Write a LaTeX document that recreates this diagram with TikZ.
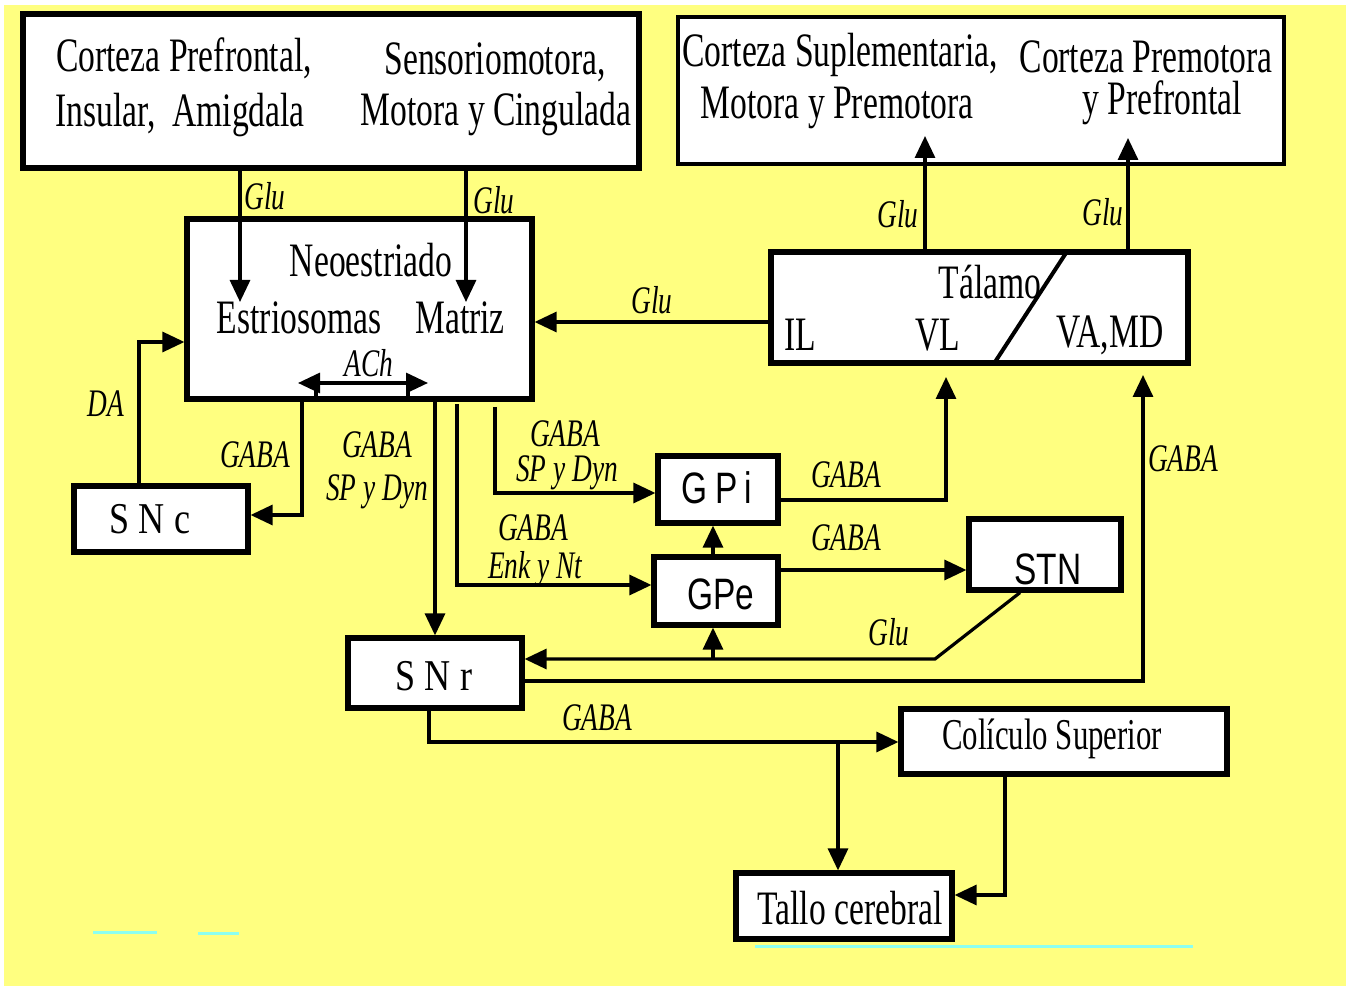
\documentclass[tikz,border=0pt]{standalone}
\usepackage{fontspec}
\usetikzlibrary{arrows.meta,fit,calc}
\newfontfamily\cond[FakeStretch=0.7]{Liberation Serif}
\newfontfamily\sanc[FakeStretch=0.76]{Liberation Sans}
\newfontfamily\snf[FakeStretch=0.82]{Liberation Serif}
\definecolor{bgy}{RGB}{255,255,128}
\definecolor{cy}{RGB}{140,255,240}
\begin{document}
\begin{tikzpicture}[x=0.5pt,y=-0.5pt,
 box/.style={draw, fill=white, line width=2.6pt, inner sep=0pt},
 txt/.style={inner sep=0pt, font=\cond\fontsize{24}{28}\selectfont},
 lab/.style={inner sep=0pt, font=\cond\itshape\fontsize{19.5}{23}\selectfont},
 sbox/.style={inner sep=0pt, font=\sanc\fontsize{22}{26}\selectfont},
 snt/.style={inner sep=0pt, font=\snf\fontsize{22}{26}\selectfont},
 arr/.style={line width=1.6pt, -{Triangle[length=11pt,width=10pt]}},
 ln/.style={line width=1.6pt}]
\useasboundingbox (0,0) rectangle (1348,988);
\fill[white] (0,0) rectangle (1348,988);
\fill[bgy] (4,5) rectangle (1346,986);
% boxes
\node[box, fit={(23,14) (639,168)}] (A) {};
\node[box, line width=2.2pt, fit={(678,17) (1284,164)}] (B) {};
\node[box, fit={(187,219) (532,399)}] (Neo) {};
\node[box, fit={(771,252) (1188,363)}] (Tal) {};
\node[box, fit={(74,486) (248,552)}] (SNc) {};
\node[box, fit={(658,456) (778,523)}] (GPi) {};
\node[box, fit={(654,557) (778,625)}] (GPe) {};
\node[box, fit={(969,519) (1121,590)}] (STN) {};
\node[box, fit={(348,638) (522,708)}] (SNr) {};
\node[box, fit={(901,709) (1227,774)}] (Col) {};
\node[box, fit={(736,873) (952,939)}] (Tallo) {};
% box texts
\node[txt] (a1) at (184,58) {Corteza Prefrontal,};
\node[txt] (a2) at (180,115) {Insular,\ \ Amigdala};
\node[txt] (a3) at (495,62) {Sensoriomotora,};
\node[txt] (a4) at (496,114) {Motora y Cingulada};
\node[txt] (b1) at (840,55) {Corteza Suplementaria,};
\node[txt] (b2) at (837,108) {Motora y Premotora};
\node[txt] (b3) at (1146,57) {Corteza Premotora};
\node[txt] (b4) at (1162,103) {y Prefrontal};
\node[txt] (n1) at (371,260) {Neoestriado};
\node[txt] (n2) at (299,318) {Estriosomas};
\node[txt] (n3) at (460,318) {Matriz};
\node[txt] (t1) at (990,282) {Tálamo};
\node[txt] (t2) at (800,335) {IL};
\node[txt] (t3) at (938,335) {VL};
\node[txt] (t4) at (1110,335) {VA,MD};
\draw[line width=2pt] (1066,253) -- (995,362);
\node[snt] (snc) at (150,519) {S N c};
\node[snt] (snr) at (434,676) {S N r};
\node[sbox] (gpi) at (717,488) {G\,P\,i};
\node[sbox] (gpe) at (721,594) {GPe};
\node[sbox] (stn) at (1048,569) {STN};
\node[txt, font=\cond\fontsize{22}{26}\selectfont] (col) at (1052,739) {Colículo Superior};
\node[txt] (tal) at (850,908) {Tallo cerebral};
% connectors
\coordinate (g1) at (240,302);
\draw[arr] (A.south -| g1) -- (g1);
\coordinate (g2) at (466,302);
\draw[arr] (A.south -| g2) -- (g2);
\coordinate (g3) at (771,322);
\draw[arr] (Tal.west |- g3) -- (Neo.east |- g3);
\coordinate (g4) at (925,136);
\draw[arr] (Tal.north -| g4) -- (g4);
\coordinate (g5) at (1128,138);
\draw[arr] (Tal.north -| g5) -- (g5);
\coordinate (da) at (139,342);
\draw[arr] (SNc.north -| da) -- (da) -- (Neo.west |- da);
\coordinate (ach1) at (298,383);
\coordinate (ach2) at (428,383);
\draw[line width=1.6pt, {Triangle[length=11pt,width=10pt]}-{Triangle[length=11pt,width=10pt]}] (ach1) -- (ach2);
\coordinate (ak1) at (316,383);
\coordinate (ak2) at (408,383);
\draw[ln] (ak1) -- (ak1 |- Neo.south);
\draw[ln] (ak2) -- (ak2 |- Neo.south);
\coordinate (s1) at (302,515);
\draw[arr] (Neo.south -| s1) -- (s1) -- (SNc.east |- s1);
\coordinate (s2) at (435,500);
\draw[arr] (Neo.south -| s2) -- (SNr.north -| s2);
\coordinate (s3a) at (457,404);
\coordinate (s3) at (457,585);
\draw[arr] (s3a) -- (s3) -- (GPe.west |- s3);
\coordinate (s4a) at (495,407);
\coordinate (s4) at (495,493);
\draw[arr] (s4a) -- (s4) -- (GPi.west |- s4);
\coordinate (s5) at (946,500);
\coordinate (s5t) at (946,377);
\draw[arr] (GPi.east |- s5) -- (s5) -- (s5t);
\coordinate (s6) at (713,540);
\draw[arr] (GPe.north -| s6) -- (GPi.south -| s6);
\coordinate (s7) at (779,570);
\draw[arr] (GPe.east |- s7) -- (STN.west |- s7);
\coordinate (s8a) at (1020,600);
\coordinate (s8b) at (935,659);
\draw[arr] (STN.south -| s8a) -- (s8b) -- (SNr.east |- s8b);
\coordinate (s9) at (713,659);
\draw[arr] (s9) -- (GPe.south -| s9);
\coordinate (s10) at (1143,681);
\coordinate (s10t) at (1143,375);
\draw[arr] (SNr.east |- s10) -- (s10) -- (s10t);
\coordinate (s11) at (429,742);
\draw[arr] (SNr.south -| s11) -- (s11) -- (Col.west |- s11);
\coordinate (s12) at (838,742);
\draw[arr] (s12) -- (Tallo.north -| s12);
\coordinate (s13) at (1005,895);
\draw[arr] (Col.south -| s13) -- (s13) -- (Tallo.east |- s13);
% labels
\node[lab] (l1) at (265,196) {Glu};
\node[lab] (l2) at (494,200) {Glu};
\node[lab] (l3) at (652,300) {Glu};
\node[lab] (l4) at (898,214) {Glu};
\node[lab] (l5) at (1103,212) {Glu};
\node[lab] (l6) at (889,632) {Glu};
\node[lab] (l7) at (106,404) {DA};
\node[lab] (l8) at (369,363) {ACh};
\node[lab] (l9) at (255,455) {GABA};
\node[lab] (l10) at (377,445) {GABA};
\node[lab] (l11) at (377,492) {SP y Dyn};
\node[lab] (l12) at (565,434) {GABA};
\node[lab] (l13) at (567,473) {SP y Dyn};
\node[lab] (l14) at (533,528) {GABA};
\node[lab] (l15) at (535,569) {Enk y Nt};
\node[lab] (l16) at (846,475) {GABA};
\node[lab] (l17) at (846,538) {GABA};
\node[lab] (l18) at (1183,459) {GABA};
\node[lab] (l19) at (597,718) {GABA};
% faint lines
\draw[cy, line width=1.5pt] (93,932) -- (157,932);
\draw[cy, line width=1.5pt] (198,933) -- (239,933);
\draw[cy, line width=1.5pt] (755,946) -- (1193,946);
\end{tikzpicture}
\end{document}
